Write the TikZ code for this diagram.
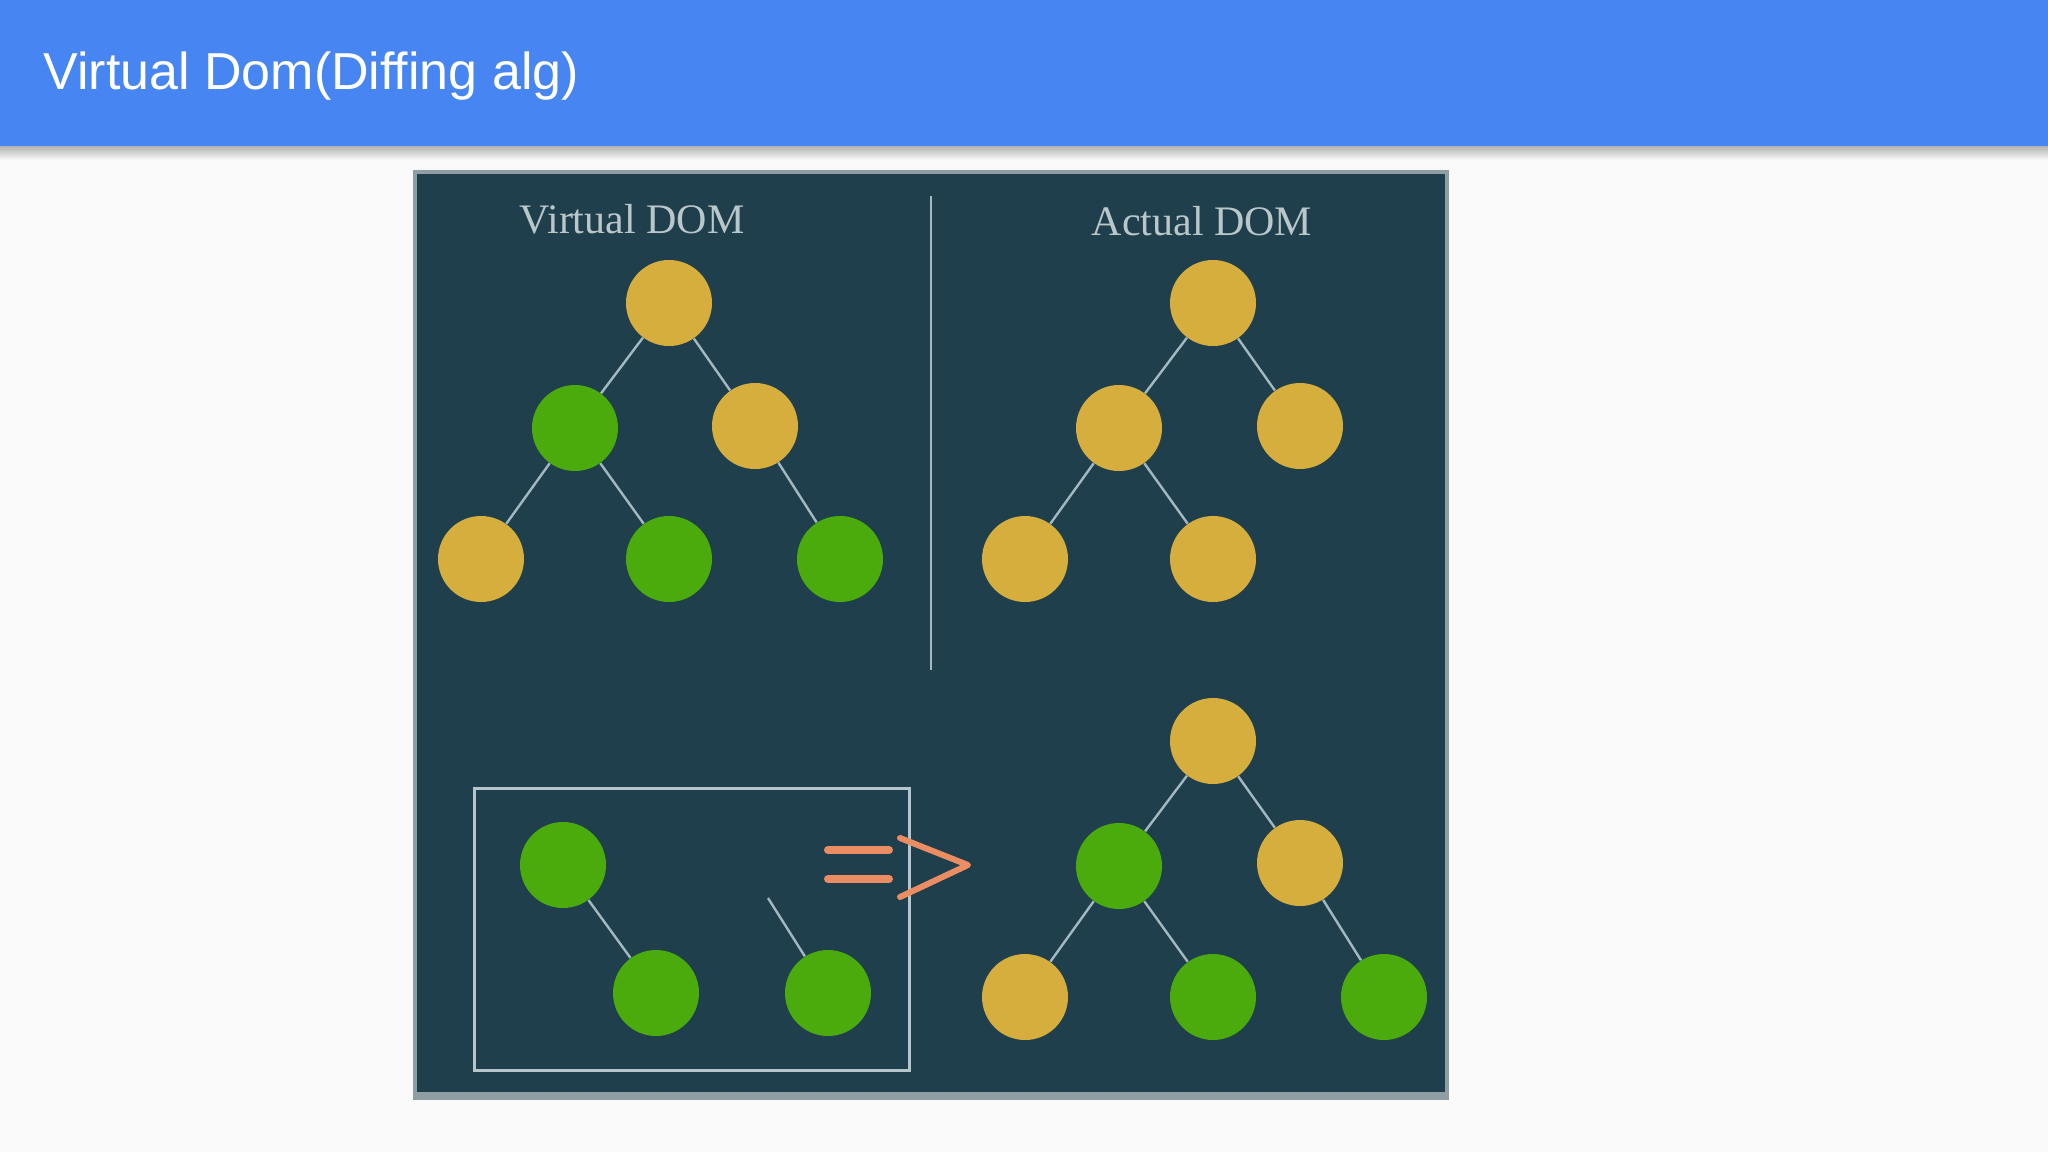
\documentclass[tikz,border=0pt]{standalone}
\usepackage{fontspec}
\setmainfont{Liberation Serif}
\newfontfamily\headfont{Liberation Sans}
\definecolor{header}{HTML}{4685F2}
\definecolor{page}{HTML}{FAFAFB}
\definecolor{panel}{HTML}{1F3F4C}
\definecolor{frame}{HTML}{8E9EA3}
\definecolor{edge}{HTML}{A3B8C0}
\definecolor{boxline}{HTML}{B4C6CB}
\definecolor{gold}{HTML}{D6AE3E}
\definecolor{leaf}{HTML}{4BAA0C}
\definecolor{label}{HTML}{B9C6CA}
\definecolor{arrow}{HTML}{EC8C62}

\begin{document}
\begin{tikzpicture}[
    x=0.5pt, y=-0.5pt,
    gnode/.style={circle, fill=leaf, minimum size=43pt, inner sep=0pt},
    ynode/.style={circle, fill=gold, minimum size=43pt, inner sep=0pt},
    link/.style={draw=edge, line width=1.2pt},
    heading/.style={font=\fontsize{21}{25}\selectfont, text=label, inner sep=0pt, anchor=base},
    arrowpart/.style={draw=arrow, line cap=round, line join=round}
]
\useasboundingbox (0,0) rectangle (2048,1152);
\fill[page] (0,0) rectangle (2048,1152);

% Header bar and its shadow.
\shade[top color=black!30, bottom color=page] (0,146) rectangle (2048,160);
\fill[header] (0,0) rectangle (2048,146);
\node[anchor=base west, inner sep=0pt, text=white,
    font=\headfont\fontsize{26}{30}\selectfont] (title) at (43,89) {Virtual Dom(Diffing alg)};

% Dark panel.
\fill[frame] (413,170) rectangle (1449,1100);
\fill[panel] (417,174) rectangle (1445,1092);
\draw[link] (931,196) -- (931,670);

\node[heading] (vlabel) at (632,233) {Virtual DOM};
\node[heading] (alabel) at (1202,235) {Actual DOM};

% Virtual DOM tree.
\node[ynode] (v1) at (669,303) {};
\node[gnode] (v2) at (575,428) {};
\node[ynode] (v3) at (755,426) {};
\node[ynode] (v4) at (481,559) {};
\node[gnode] (v5) at (669,559) {};
\node[gnode] (v6) at (840,559) {};

% Actual DOM tree.
\node[ynode] (a1) at (1213,303) {};
\node[ynode] (a2) at (1119,428) {};
\node[ynode] (a3) at (1300,426) {};
\node[ynode] (a4) at (1025,559) {};
\node[ynode] (a5) at (1213,559) {};

% Changed nodes, boxed.
\draw[boxline, line width=1.5pt] (474,788) rectangle (909,1070);
\node[gnode] (p1) at (563,865) {};
\node[gnode] (p2) at (656,993) {};
\node[gnode] (p3) at (828,993) {};
\coordinate (pstub) at (768,898);

% Patched actual DOM.
\node[ynode] (r1) at (1213,741) {};
\node[gnode] (r2) at (1119,866) {};
\node[ynode] (r3) at (1300,863) {};
\node[ynode] (r4) at (1025,997) {};
\node[gnode] (r5) at (1213,997) {};
\node[gnode] (r6) at (1384,997) {};

\foreach \a/\b in {v1/v2,v1/v3,v2/v4,v2/v5,v3/v6,
                   a1/a2,a1/a3,a2/a4,a2/a5,
                   p1/p2,pstub/p3,
                   r1/r2,r1/r3,r2/r4,r2/r5,r3/r6}
    \draw[link] (\a) -- (\b);

% Arrow.
\draw[arrowpart, line width=4pt] (828,850) -- (889,850);
\draw[arrowpart, line width=4pt] (828,879) -- (889,879);
\draw[arrowpart, line width=3pt] (900,838) -- (968,865) -- (900,897);
\end{tikzpicture}
\end{document}
